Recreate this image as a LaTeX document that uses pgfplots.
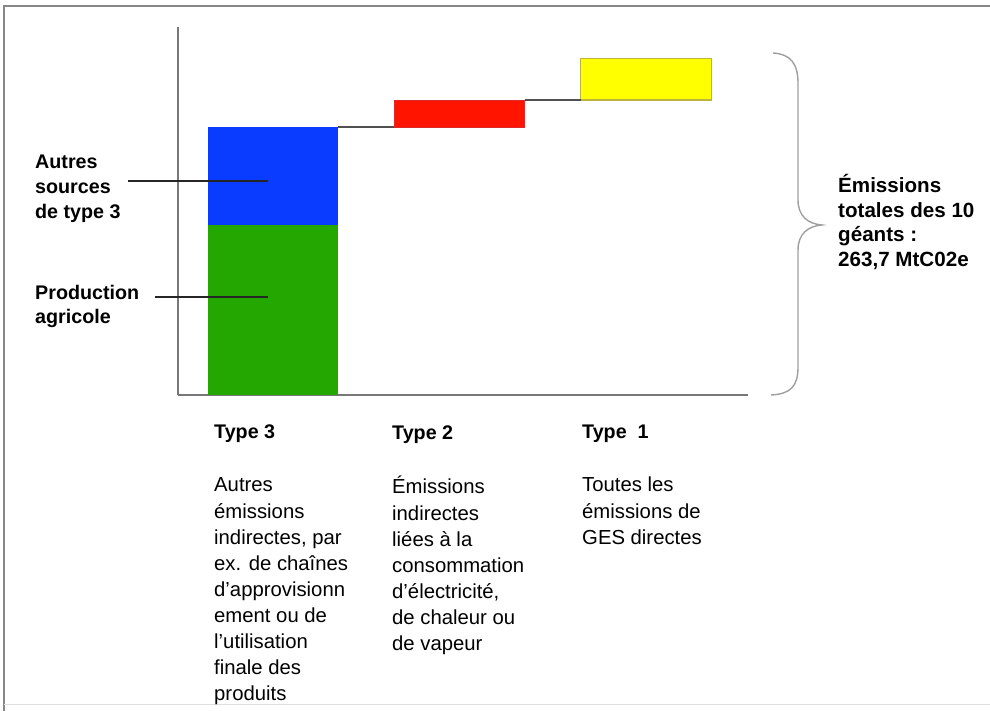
\documentclass[border=0pt]{standalone}
\usepackage{fontspec}
\setmainfont{Liberation Sans}
\usepackage{pgfplots}
\pgfplotsset{compat=1.18}
\definecolor{cgreen}{RGB}{36,168,0}
\definecolor{cblue}{RGB}{10,60,255}
\definecolor{cred}{RGB}{255,20,0}
\definecolor{credb}{RGB}{225,40,40}
\definecolor{cyellow}{RGB}{255,255,0}
\definecolor{cyellowb}{RGB}{190,180,60}
\definecolor{conn}{RGB}{80,80,80}
\definecolor{axgray}{RGB}{120,120,120}
\definecolor{framegray}{RGB}{135,135,135}
\newcommand{\textlines}[5]{% #1 x px, #2 first baseline (px from top), #3 skip, #4 font, #5 list
  \foreach \t [count=\i from 0] in {#5} {%
    \node[anchor=base west, inner sep=0pt, font=#4] at (#1, {711-#2-\i*#3}) {\t};}}
\begin{document}
\begin{tikzpicture}[x=1pt,y=1pt]
\path[use as bounding box] (0,0) rectangle (990,711);
% frame
\draw[framegray, line width=2.5pt] (4,0) -- (4,705) -- (990,705);
\draw[gray!25, line width=1pt] (4,6) -- (990,6);
\begin{axis}[
  at={(178pt,316pt)}, anchor=south west,
  scale only axis, width=570pt, height=368pt,
  xmin=-0.5097, xmax=2.548, ymin=0, ymax=288.2,
  axis x line=bottom, axis y line=left,
  x axis line style={-}, y axis line style={-},
  axis line style={draw=axgray, line width=2.5pt},
  xtick=\empty, ytick=\empty,
  clip=false,
]
% Type 3 : production agricole
\addplot[fill=cgreen, draw=none] coordinates {(-0.35,0) (0.35,0) (0.35,133.1) (-0.35,133.1)} -- cycle;
% Type 3 : autres sources
\addplot[fill=cblue, draw=none] coordinates {(-0.35,133.1) (0.35,133.1) (0.35,209.9) (-0.35,209.9)} -- cycle;
% Type 2
\addplot[fill=cred, draw=credb, line width=0.8pt] coordinates {(0.65,209.9) (1.35,209.9) (1.35,231.0) (0.65,231.0)} -- cycle;
% Type 1
\addplot[fill=cyellow, draw=cyellowb, line width=1.2pt] coordinates {(1.65,231.0) (2.35,231.0) (2.35,263.7) (1.65,263.7)} -- cycle;
% connectors
\addplot[conn, line width=2pt] coordinates {(0.35,209.9) (0.65,209.9)};
\addplot[conn, line width=2pt] coordinates {(1.35,231.0) (1.65,231.0)};
\end{axis}
% leader lines
\draw[black!85, line width=1.8pt] (128,{711-181}) -- (268,{711-181});
\draw[black!85, line width=1.8pt] (155,{711-297}) -- (268,{711-297});
% brace
\draw[gray!75, line width=1.4pt] (773,658) .. controls (790,657) and (798,648) .. (798,628)
  -- (798,511) .. controls (798,495) and (808,487) .. (822,486)
  .. controls (808,485) and (798,477) .. (798,461)
  -- (798,344) .. controls (798,324) and (790,317) .. (771,316);
% left labels
\textlines{35}{169}{25}{\fontsize{19.7}{25}\bfseries}{Autres,sources,de type 3}
\textlines{35}{300}{24}{\fontsize{19.7}{25}\bfseries}{Production,agricole}
% right label
\textlines{838}{193}{24.5}{\fontsize{20.6}{25}\bfseries}{Émissions,totales des 10,géants :,{263,7 MtC02e}}
% headers
\node[anchor=base west, inner sep=0pt, font=\fontsize{19.7}{25}\bfseries] at (214,{711-439}) {Type 3};
\node[anchor=base west, inner sep=0pt, font=\fontsize{19.7}{25}\bfseries] at (392,{711-440}) {Type 2};
\node[anchor=base west, inner sep=0pt, font=\fontsize{19.7}{25}\bfseries] at (582,{711-439}) {Type~~1};
% descriptions
\textlines{214}{492}{26.1}{\fontsize{20.3}{26}\selectfont}{Autres,émissions,{indirectes, par},ex. de chaînes,d’approvisionn,ement ou de,l’utilisation,finale des,produits}
\textlines{392}{494}{26.1}{\fontsize{20.3}{26}\selectfont}{Émissions,indirectes,liées à la,consommation,{d’électricité,},de chaleur ou,de vapeur}
\textlines{582}{492}{26.1}{\fontsize{20.3}{26}\selectfont}{Toutes les,émissions de,GES directes}
\end{tikzpicture}
\end{document}
